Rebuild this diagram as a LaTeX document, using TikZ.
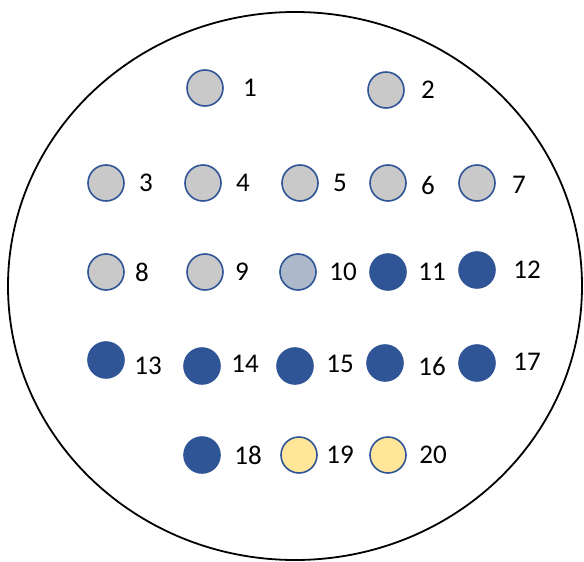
\documentclass[tikz,border=0pt]{standalone}
\usepackage{fontspec}
\setmainfont{Carlito}
\definecolor{ring}{HTML}{2F5597}
\definecolor{greyfill}{HTML}{C9C9C9}
\definecolor{bluegrey}{HTML}{ADB9CA}
\definecolor{yellowfill}{HTML}{FFE699}
\tikzset{
  pin/.style={circle, minimum size=36pt, inner sep=0pt, draw=ring, line width=1.6pt},
  grey/.style={pin, fill=greyfill},
  bg/.style={pin, fill=bluegrey},
  dark/.style={pin, fill=ring},
  yel/.style={pin, fill=yellowfill},
  lab/.style={font=\fontsize{27}{27}\selectfont, inner sep=0pt, text=black}
}
\begin{document}
\begin{tikzpicture}[x=1pt,y=-1pt]
\useasboundingbox (0,0) rectangle (584,562);
\draw[line width=1.8pt] (295,286) ellipse [x radius=287, y radius=274];
\node[grey] (p1) at (205,88) {}; \node[lab] (l1) at (250,88) {1};
\node[grey] (p2) at (386,90) {}; \node[lab] (l2) at (428,90) {2};
\node[grey] (p3) at (106,183) {}; \node[lab] (l3) at (146,183) {3};
\node[grey] (p4) at (203,183) {}; \node[lab] (l4) at (243,183) {4};
\node[grey] (p5) at (300,183) {}; \node[lab] (l5) at (340,183) {5};
\node[grey] (p6) at (388,183) {}; \node[lab] (l6) at (428,185) {6};
\node[grey] (p7) at (477,183) {}; \node[lab] (l7) at (519,185) {7};
\node[grey] (p8) at (106,272) {}; \node[lab] (l8) at (142,272) {8};
\node[grey] (p9) at (205,272) {}; \node[lab] (l9) at (242,272) {9};
\node[bg] (p10) at (298,272) {}; \node[lab] (l10) at (343,272) {10};
\node[dark] (p11) at (388,272) {}; \node[lab] (l11) at (432,272) {11};
\node[dark] (p12) at (477,270) {}; \node[lab] (l12) at (527,270) {12};
\node[dark] (p13) at (106,360) {}; \node[lab] (l13) at (148,366) {13};
\node[dark] (p14) at (202,366) {}; \node[lab] (l14) at (245,364) {14};
\node[dark] (p15) at (295,366) {}; \node[lab] (l15) at (340,364) {15};
\node[dark] (p16) at (385,363) {}; \node[lab] (l16) at (432,366) {16};
\node[dark] (p17) at (477,363) {}; \node[lab] (l17) at (527,362) {17};
\node[dark] (p18) at (202,455) {}; \node[lab] (l18) at (248,455) {18};
\node[yel] (p19) at (299,455) {}; \node[lab] (l19) at (340,455) {19};
\node[yel] (p20) at (388,455) {}; \node[lab] (l20) at (433,455) {20};
\end{tikzpicture}
\end{document}
